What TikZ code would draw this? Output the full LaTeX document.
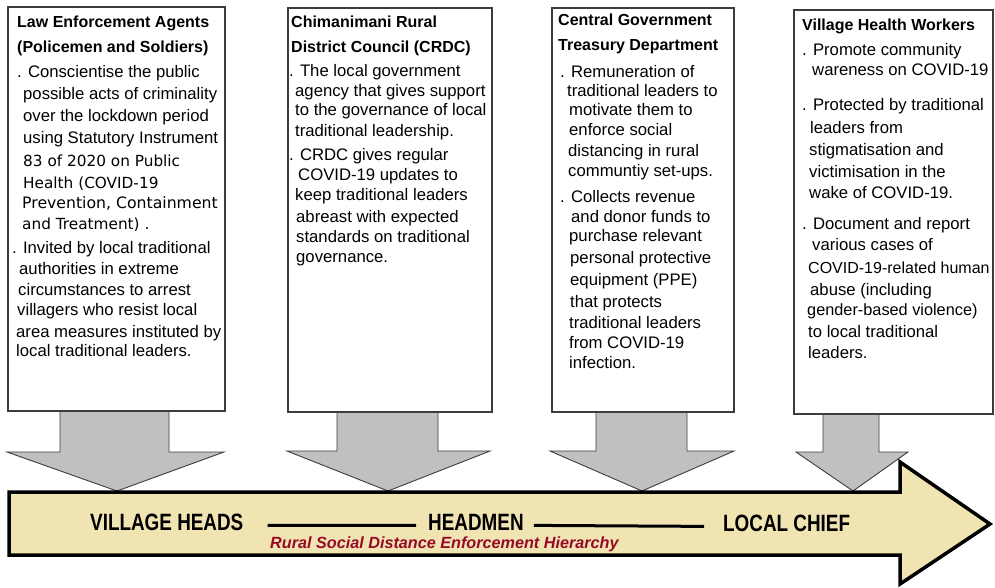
\documentclass[tikz,border=0pt]{standalone}
\usepackage{fontspec}
\setmainfont{Liberation Sans}
\newfontfamily\narrowfont{Liberation Sans}[FakeStretch=0.8]
\newfontfamily\dvfont{DejaVu Sans}
\definecolor{wheatfill}{RGB}{240,228,178}
\definecolor{arrowgray}{RGB}{192,192,192}
\definecolor{edgegray}{RGB}{60,60,60}
\definecolor{hierred}{RGB}{150,10,40}
\begin{document}
\begin{tikzpicture}[x=1pt,y=-1pt,
  bd/.style={anchor=base west, inner sep=0pt, font=\fontsize{16.7}{20}\selectfont},
  dv/.style={anchor=base west, inner sep=0pt, font=\dvfont\fontsize{15.3}{19}\selectfont},
  ttl/.style={anchor=base west, inner sep=0pt, font=\bfseries\fontsize{16}{20}\selectfont},
  infobox/.style={draw=edgegray, line width=1.5pt, fill=white, anchor=north west, inner sep=0pt},
  grayarrow/.style={fill=arrowgray, draw=edgegray, line width=0.9pt, line join=miter},
  mainarrow/.style={fill=wheatfill, draw=black, line width=3.5pt, line join=miter},
  lvl/.style={anchor=base west, inner sep=0pt, font=\narrowfont\bfseries\fontsize{23.6}{28}\selectfont},
  lvline/.style={draw=black, line width=3pt},
  hier/.style={anchor=base west, inner sep=0pt, text=hierred, font=\bfseries\itshape\fontsize{16.2}{20}\selectfont}
]
\useasboundingbox (0,0) rectangle (995,587);

% gray arrows
\draw[grayarrow] (60,410) -- (60,452) -- (7,452) -- (117,491) -- (224,452) -- (169,452) -- (169,410) -- cycle;
\draw[grayarrow] (337,411) -- (337,451) -- (287,451) -- (388,491) -- (490,451) -- (438,451) -- (438,411) -- cycle;
\draw[grayarrow] (596,411) -- (596,451) -- (550,451) -- (642,491) -- (734,451) -- (687,451) -- (687,411) -- cycle;
\draw[grayarrow] (823,413) -- (823,452) -- (796,452) -- (853,491) -- (908,452) -- (879,452) -- (879,413) -- cycle;

% boxes
\node[infobox, minimum width=217pt, minimum height=404pt] (box1) at (7,6) {};
\node[infobox, minimum width=204pt, minimum height=404pt] (box2) at (287,7) {};
\node[infobox, minimum width=182pt, minimum height=404pt] (box3) at (551,7) {};
\node[infobox, minimum width=199pt, minimum height=404pt] (box4) at (793,9) {};

% box 1
\node[ttl] (t1a) at (17,27) {Law Enforcement Agents};
\node[ttl] (t1b) at (17,52) {(Policemen and Soldiers)};
\node[bd] (b1l1) at (17,77) {. Conscientise the public};
\node[bd] (b1l2) at (23,99) {possible acts of criminality};
\node[bd] (b1l3) at (23,121) {over the lockdown period};
\node[bd] (b1l4) at (23,143) {using Statutory Instrument};
\node[dv] (b1l5) at (23,166) {83 of 2020 on Public};
\node[dv] (b1l6) at (23,188) {Health (COVID-19};
\node[dv, font=\dvfont\fontsize{15.7}{19}\selectfont] (b1l7) at (22,208) {Prevention, Containment};
\node[dv] (b1l8) at (22,229) {and Treatment) .};
\node[bd] (b1m1) at (12,253) {. Invited by local traditional};
\node[bd] (b1m2) at (19,274) {authorities in extreme};
\node[bd] (b1m3) at (18,295) {circumstances to arrest};
\node[bd] (b1m4) at (17,315) {villagers who resist local};
\node[bd] (b1m5) at (16,337) {area measures instituted by};
\node[bd] (b1m6) at (16,356) {local traditional leaders.};

% box 2
\node[ttl] (t2a) at (291,27) {Chimanimani Rural};
\node[ttl] (t2b) at (291,52) {District Council (CRDC)};
\node[bd] (b2l1) at (289,76) {. The local government};
\node[bd] (b2l2) at (295,96) {agency that gives support};
\node[bd] (b2l3) at (295,115) {to the governance of local};
\node[bd] (b2l4) at (295,136) {traditional leadership.};
\node[bd] (b2m1) at (289,160) {. CRDC gives regular};
\node[bd] (b2m2) at (298,180) {COVID-19 updates to};
\node[bd] (b2m3) at (295,200) {keep traditional leaders};
\node[bd] (b2m4) at (296,222) {abreast with expected};
\node[bd] (b2m5) at (296,242) {standards on traditional};
\node[bd] (b2m6) at (296,262) {governance.};

% box 3
\node[ttl] (t3a) at (558,25) {Central Government};
\node[ttl] (t3b) at (558,50) {Treasury Department};
\node[bd] (b3l1) at (560,77) {. Remuneration of};
\node[bd] (b3l2) at (567,96) {traditional leaders to};
\node[bd] (b3l3) at (569,115) {motivate them to};
\node[bd] (b3l4) at (569,135) {enforce social};
\node[bd] (b3l5) at (568,156) {distancing in rural};
\node[bd] (b3l6) at (568,176) {communtiy set-ups.};
\node[bd] (b3m1) at (560,202) {. Collects revenue};
\node[bd] (b3m2) at (571,222) {and donor funds to};
\node[bd] (b3m3) at (569,241) {purchase relevant};
\node[bd] (b3m4) at (570,263) {personal protective};
\node[bd] (b3m5) at (570,285) {equipment (PPE)};
\node[bd] (b3m6) at (570,307) {that protects};
\node[bd] (b3m7) at (569,328) {traditional leaders};
\node[bd] (b3m8) at (569,348) {from COVID-19};
\node[bd] (b3m9) at (569,368) {infection.};

% box 4
\node[ttl] (t4a) at (802,30) {Village Health Workers};
\node[bd] (b4l1) at (802,55) {. Promote community};
\node[bd] (b4l2) at (812,75) {wareness on COVID-19};
\node[bd] (b4m1) at (802,110) {. Protected by traditional};
\node[bd] (b4m2) at (810,133) {leaders from};
\node[bd] (b4m3) at (809,155) {stigmatisation and};
\node[bd] (b4m4) at (809,177) {victimisation in the};
\node[bd] (b4m5) at (809,198) {wake of COVID-19.};
\node[bd] (b4n1) at (802,229) {. Document and report};
\node[bd] (b4n2) at (812,250) {various cases of};
\node[bd, font=\fontsize{16}{20}\selectfont] (b4n3) at (808,273) {COVID-19-related human};
\node[bd] (b4n4) at (810,295) {abuse (including};
\node[bd, font=\fontsize{16.3}{20}\selectfont] (b4n5) at (807,315) {gender-based violence)};
\node[bd] (b4n6) at (808,337) {to local traditional};
\node[bd] (b4n7) at (808,358) {leaders.};

% main arrow
\draw[mainarrow] (9,492) -- (900,492) -- (900,462) -- (990,524) -- (900,584) -- (900,555) -- (9,555) -- cycle;

\node[lvl] (vh) at (90,530) {VILLAGE HEADS};
\node[lvl] (hm) at (428,530) {HEADMEN};
\node[lvl] (lc) at (723,531) {LOCAL CHIEF};
\draw[lvline] ([xshift=24pt,yshift=-3.5pt]vh.east) -- ([xshift=-12pt,yshift=-3.5pt]hm.west);
\draw[lvline] ([xshift=10pt,yshift=-3.5pt]hm.east) -- ([xshift=-19pt,yshift=-3.5pt]lc.west);
\node[hier] (rsd) at (270,548) {Rural Social Distance Enforcement Hierarchy};
\end{tikzpicture}
\end{document}
